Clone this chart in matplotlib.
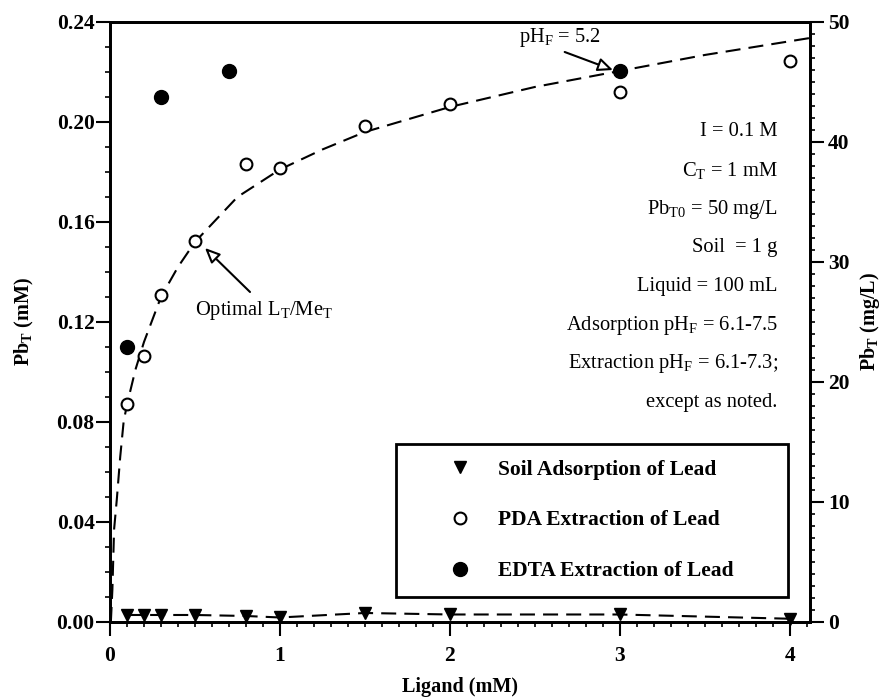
import numpy as np
import matplotlib
matplotlib.use('Agg')
import matplotlib.pyplot as plt
from matplotlib.ticker import MultipleLocator

plt.rcParams['font.family'] = 'Liberation Serif'
plt.rcParams['mathtext.fontset'] = 'custom'
plt.rcParams['mathtext.rm'] = 'Liberation Serif'
plt.rcParams['mathtext.bf'] = 'Liberation Serif:bold'
plt.rcParams['mathtext.it'] = 'Liberation Serif:italic'

# data (mM)
ligand_soil = [0.1, 0.2, 0.3, 0.5, 0.8, 1.0, 1.5, 2.0, 3.0, 4.0]
pb_soil = [0.0028, 0.0028, 0.0028, 0.0028, 0.0024, 0.0018, 0.0036, 0.003, 0.003, 0.0013]

ligand_pda = [0.1, 0.2, 0.3, 0.5, 0.8, 1.0, 1.5, 2.0, 3.0, 4.0]
pb_pda = [0.0872, 0.1064, 0.1308, 0.1524, 0.1832, 0.1816, 0.1984, 0.2072, 0.212, 0.2244]

ligand_edta = [0.1, 0.3, 0.7, 3.0]
pb_edta = [0.110, 0.210, 0.2204, 0.2204]

# dashed model curve for PDA extraction
fit_x = [0.005, 0.014, 0.024, 0.04, 0.06, 0.08, 0.1, 0.15, 0.2, 0.3, 0.4, 0.5,
         0.75, 1.0, 1.25, 1.5, 2.0, 2.5, 3.0, 3.5, 4.12]
fit_y = [0.0, 0.013, 0.037, 0.049, 0.066, 0.080, 0.087, 0.101, 0.112, 0.130, 0.142,
         0.152, 0.170, 0.181, 0.189, 0.196, 0.206, 0.214, 0.2204, 0.2268, 0.2336]

notes = [r'I = 0.1 M', r'C$_\mathrm{T}$ = 1 mM', r'Pb$_\mathrm{T0}$ = 50 mg/L',
         r'Soil  = 1 g', r'Liquid = 100 mL', r'Adsorption pH$_\mathrm{F}$ = 6.1-7.5',
         r'Extraction pH$_\mathrm{F}$ = 6.1-7.3;', 'except as noted.']

fig = plt.figure(figsize=(8.85, 6.98), dpi=100)
ax = fig.add_axes([0.1243, 0.1089, 0.7910, 0.8596])

dash = (7.2, 3.9)
ax.plot(fit_x, fit_y, color='black', lw=1.5, dashes=dash)
ax.plot(ligand_soil, pb_soil, color='black', lw=1.5, dashes=dash)

ax.plot(ligand_soil, pb_soil, 'v', color='black', ms=9, ls='none',
        label='Soil Adsorption of Lead', clip_on=False, zorder=5)
ax.plot(ligand_pda, pb_pda, 'o', mfc='white', mec='black', mew=1.5, ms=8.5, ls='none',
        label='PDA Extraction of Lead', zorder=5)
ax.plot(ligand_edta, pb_edta, 'o', color='black', ms=10, ls='none',
        label='EDTA Extraction of Lead', zorder=6)

ax.set_xlim(0, 4.12)
ax.set_ylim(0, 0.24)
ax.xaxis.set_major_locator(MultipleLocator(1))
ax.xaxis.set_minor_locator(MultipleLocator(0.1))
ax.yaxis.set_major_locator(MultipleLocator(0.04))
ax.yaxis.set_minor_locator(MultipleLocator(0.01))
ax.yaxis.set_major_formatter(matplotlib.ticker.FormatStrFormatter('%.2f'))

ax2 = ax.twinx()
ax2.set_ylim(0, 50)
ax2.yaxis.set_major_locator(MultipleLocator(10))
ax2.yaxis.set_minor_locator(MultipleLocator(1))

for a in (ax, ax2):
    for s in a.spines.values():
        s.set_linewidth(2)
    a.tick_params(which='major', length=10, width=1.5, labelsize=15.5)
    a.tick_params(which='minor', length=3.5, width=1.2)
ax.tick_params(axis='x', which='major', pad=7)
ax.tick_params(axis='y', which='major', pad=1)
ax2.tick_params(axis='y', which='major', pad=3)
for lab in ax.get_xticklabels() + ax.get_yticklabels() + ax2.get_yticklabels():
    lab.set_fontweight('bold')

ax.set_xlabel('Ligand (mM)', fontsize=14.5, fontweight='bold', labelpad=8)
ax.set_ylabel(r'Pb$_\mathbf{T}$ (mM)', fontsize=14.5, fontweight='bold', labelpad=15)
ax2.set_ylabel(r'Pb$_\mathbf{T}$ (mg/L)', fontsize=14.5, fontweight='bold', labelpad=6)

for i, t in enumerate(notes):
    ax.text(0.954, 0.817 - i * 0.0645, t, transform=ax.transAxes, ha='right', va='center',
            fontsize=14.8)

arrow = dict(arrowstyle='-|>,head_length=0.9,head_width=0.4', fc='white',
             ec='black', lw=1.5, shrinkA=0, shrinkB=0)
ax.text(2.65, 0.2336, r'pH$_\mathrm{F}$ = 5.2', fontsize=14.8, ha='center', va='center')
ax.annotate('', xy=(2.96, 0.2208), xytext=(2.676, 0.228), arrowprops=arrow)
ax.text(0.50, 0.1245, r'Optimal L$_\mathrm{T}$/Me$_\mathrm{T}$', fontsize=14.8,
        ha='left', va='center')
ax.annotate('', xy=(0.559, 0.1496), xytext=(0.824, 0.132), arrowprops=arrow)

leg = ax.legend(loc='lower left', bbox_to_anchor=(0.4086, 0.0417, 0.56, 0.25), mode='expand',
                frameon=True, fancybox=False, edgecolor='black', framealpha=1,
                prop={'weight': 'bold', 'size': 15.5}, borderpad=0.74, labelspacing=1.42,
                handlelength=4.48, handletextpad=-0.48, borderaxespad=0)
leg.get_frame().set_linewidth(2)

fig.savefig('out.png', dpi=100)
